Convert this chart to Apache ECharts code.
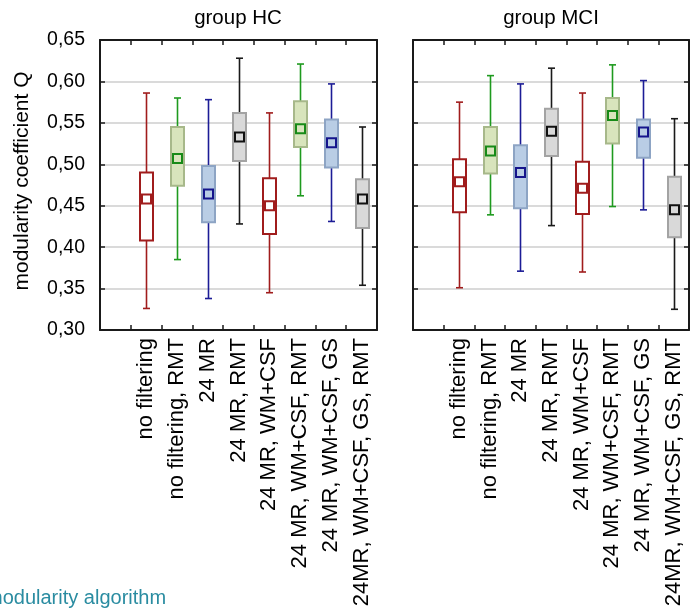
<!DOCTYPE html>
<html>
<head>
<meta charset="utf-8">
<script src="https://cdn.jsdelivr.net/npm/echarts@6/dist/echarts.min.js"></script>
<style>
  html, body { margin: 0; padding: 0; background: #fff; }
  #chart { width: 690px; height: 611px; }
</style>
</head>
<body>
<div id="chart"></div>
<script>
  // first slot is left empty, as in the original figure
  const categories = ['', 'no filtering', 'no filtering, RMT', '24 MR', '24 MR, RMT',
    '24 MR, WM+CSF', '24 MR, WM+CSF, RMT', '24 MR, WM+CSF, GS', '24MR, WM+CSF, GS, RMT']
  const yTicks = [0.30, 0.35, 0.40, 0.45, 0.50, 0.55, 0.60, 0.65]

  // group HC
  const hcLow  = [0.326, 0.385, 0.338, 0.428, 0.345, 0.462, 0.431, 0.354]
  const hcQ1   = [0.408, 0.474, 0.430, 0.504, 0.416, 0.521, 0.496, 0.423]
  const hcQ3   = [0.490, 0.545, 0.498, 0.562, 0.483, 0.576, 0.554, 0.482]
  const hcHigh = [0.586, 0.580, 0.578, 0.628, 0.562, 0.621, 0.597, 0.545]
  const hcMean = [0.458, 0.507, 0.464, 0.533, 0.450, 0.543, 0.526, 0.458]

  // group MCI
  const mciLow  = [0.351, 0.439, 0.371, 0.426, 0.370, 0.449, 0.445, 0.325]
  const mciQ1   = [0.442, 0.489, 0.447, 0.510, 0.440, 0.525, 0.508, 0.412]
  const mciQ3   = [0.506, 0.545, 0.523, 0.567, 0.503, 0.580, 0.554, 0.485]
  const mciHigh = [0.575, 0.607, 0.597, 0.616, 0.586, 0.620, 0.601, 0.555]
  const mciMean = [0.479, 0.516, 0.490, 0.540, 0.471, 0.559, 0.539, 0.445]

  const palette = {
    red:   { line: '#a01c1c', fill: '#ffffff', border: '#a01c1c', mean: '#a01c1c' },
    green: { line: '#1e9a1e', fill: '#d8e4bc', border: '#a7b88a', mean: '#178a17' },
    blue:  { line: '#1c1c96', fill: '#b9cde5', border: '#8da4c4', mean: '#14148c' },
    black: { line: '#1a1a1a', fill: '#d9d9d9', border: '#a3a3a3', mean: '#111111' }
  }
  const styleOrder = ['red', 'green', 'blue', 'black', 'red', 'green', 'blue', 'black']

  const font = 'Liberation Sans'
  const chart = echarts.init(document.getElementById('chart'))

  function buildData(low, q1, q3, high, mean) {
    return low.map((v, i) => [categories[i + 1], v, q1[i], q3[i], high[i], mean[i]])
  }

  function renderBox(params, api) {
    const c = palette[styleOrder[params.dataIndex]]
    const x = api.value(0)
    const pLow = api.coord([x, api.value(1)])
    const pQ1 = api.coord([x, api.value(2)])
    const pQ3 = api.coord([x, api.value(3)])
    const pHigh = api.coord([x, api.value(4)])
    const pMean = api.coord([x, api.value(5)])
    const cx = Math.round(pLow[0]) + 0.5
    const bw = 13, cap = 7, ms = 9
    return {
      type: 'group',
      children: [
        { type: 'line', shape: { x1: cx, y1: pLow[1], x2: cx, y2: pHigh[1] },
          style: { stroke: c.line, lineWidth: 1.6 } },
        { type: 'line', shape: { x1: cx - cap / 2, y1: pLow[1], x2: cx + cap / 2, y2: pLow[1] },
          style: { stroke: c.line, lineWidth: 1.6 } },
        { type: 'line', shape: { x1: cx - cap / 2, y1: pHigh[1], x2: cx + cap / 2, y2: pHigh[1] },
          style: { stroke: c.line, lineWidth: 1.6 } },
        { type: 'rect', shape: { x: cx - bw / 2, y: pQ3[1], width: bw, height: pQ1[1] - pQ3[1] },
          style: { fill: c.fill, stroke: c.border, lineWidth: 2 } },
        { type: 'rect', shape: { x: cx - ms / 2, y: pMean[1] - ms / 2, width: ms, height: ms },
          style: { fill: c.fill, stroke: c.mean, lineWidth: 2 } }
      ]
    }
  }

  const axisLine = { show: true, lineStyle: { color: '#1a1a1a', width: 2 } }
  const tick = { show: true, inside: true, length: 5, interval: 0, lineStyle: { color: '#1a1a1a', width: 1.5 } }

  function xAxes(gridIndex) {
    return [
      {
        type: 'category', gridIndex: gridIndex, position: 'bottom', data: categories,
        axisLine: axisLine, axisTick: tick,
        axisLabel: { interval: 0, rotate: 90, margin: 8, color: '#000', fontSize: 22, fontFamily: font }
      },
      {
        type: 'category', gridIndex: gridIndex, position: 'top', data: categories,
        axisLine: axisLine, axisTick: tick, axisLabel: { show: false }
      }
    ]
  }

  function yAxes(gridIndex) {
    return [
      {
        type: 'value', gridIndex: gridIndex, position: 'left', min: 0.3, max: 0.65, interval: 0.05,
        axisLine: axisLine, axisTick: { show: true, inside: true, length: 5, lineStyle: { color: '#1a1a1a', width: 1.5 } },
        splitLine: { show: true, lineStyle: { color: '#dadada', width: 2 } },
        axisLabel: {
          show: gridIndex === 0, margin: 15, color: '#000', fontSize: 19.5, fontFamily: font,
          formatter: v => yTicks.find(t => Math.abs(t - v) < 1e-6).toFixed(2).replace('.', ',')
        }
      },
      {
        type: 'value', gridIndex: gridIndex, position: 'right', min: 0.3, max: 0.65, interval: 0.05,
        axisLine: axisLine, axisTick: { show: true, inside: true, length: 5, lineStyle: { color: '#1a1a1a', width: 1.5 } },
        splitLine: { show: false }, axisLabel: { show: false }
      }
    ]
  }

  chart.setOption({
    animation: false,
    backgroundColor: '#fff',
    grid: [
      { left: 100, top: 40, width: 277, height: 290 },
      { left: 413, top: 40, width: 276, height: 290 }
    ],
    xAxis: [...xAxes(0), ...xAxes(1)],
    yAxis: [...yAxes(0), ...yAxes(1)],
    series: [
      {
        name: 'group HC', type: 'custom', xAxisIndex: 0, yAxisIndex: 0,
        encode: { x: 0, y: [1, 2, 3, 4, 5] },
        renderItem: renderBox,
        data: buildData(hcLow, hcQ1, hcQ3, hcHigh, hcMean)
      },
      {
        name: 'group MCI', type: 'custom', xAxisIndex: 2, yAxisIndex: 2,
        encode: { x: 0, y: [1, 2, 3, 4, 5] },
        renderItem: renderBox,
        data: buildData(mciLow, mciQ1, mciQ3, mciHigh, mciMean)
      }
    ],
    graphic: [
      { type: 'text', x: 238, y: 18,
        style: { text: 'group HC', fill: '#000', font: '20.5px "Liberation Sans"', textAlign: 'center', textVerticalAlign: 'middle' } },
      { type: 'text', x: 551, y: 18,
        style: { text: 'group MCI', fill: '#000', font: '20.5px "Liberation Sans"', textAlign: 'center', textVerticalAlign: 'middle' } },
      { type: 'text', x: 22, y: 181, rotation: Math.PI / 2,
        style: { text: 'modularity coefficient Q', fill: '#000', font: '21px "Liberation Sans"', textAlign: 'center', textVerticalAlign: 'middle' } },
      { type: 'text', x: -14, y: 598,
        style: { text: 'modularity algorithm', fill: '#2a8ca1', font: '20px "Liberation Sans"', textAlign: 'left', textVerticalAlign: 'middle' } }
    ]
  })
</script>
</body>
</html>
